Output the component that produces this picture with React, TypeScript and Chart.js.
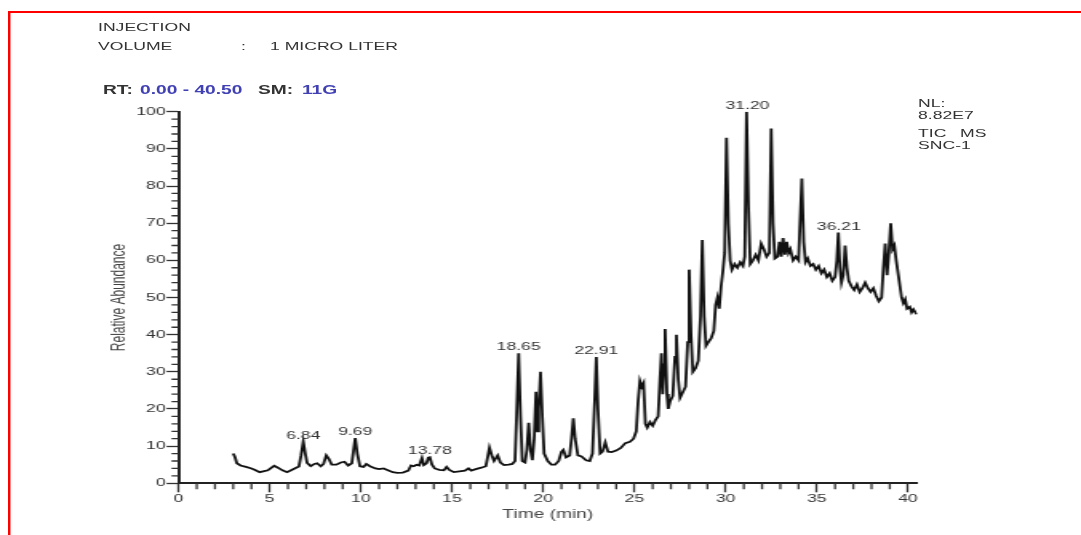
import React, { useEffect, useRef } from "react";
import { Chart, registerables } from "chart.js";

Chart.register(...registerables);

// ---- data ----
const RETENTION_TIMES = [
  3.0, 3.1, 3.2, 3.4, 3.7, 4.0, 4.2, 4.45, 4.7, 4.9, 5.1, 5.25, 5.45, 5.7, 5.95, 6.2, 6.45, 6.6, 6.72, 6.84,
  6.95, 7.05, 7.25, 7.45, 7.6, 7.8, 7.95, 8.1, 8.25, 8.4, 8.65, 8.9, 9.1, 9.3, 9.5, 9.6, 9.69, 9.8, 9.95, 10.15,
  10.3, 10.5, 10.8, 11.0, 11.25, 11.45, 11.75, 12.0, 12.3, 12.6, 12.75, 12.9, 13.05, 13.2, 13.35, 13.45, 13.6, 13.7, 13.78, 13.9,
  14.05, 14.3, 14.55, 14.7, 14.85, 15.1, 15.4, 15.7, 15.9, 16.05, 16.3, 16.6, 16.85, 16.95, 17.05, 17.2, 17.3, 17.5, 17.65, 17.85,
  18.1, 18.3, 18.45, 18.55, 18.65, 18.75, 18.85, 19.0, 19.1, 19.2, 19.3, 19.4, 19.5, 19.6, 19.68, 19.75, 19.85, 19.95, 20.05, 20.25,
  20.45, 20.65, 20.85, 21.0, 21.1, 21.25, 21.45, 21.55, 21.65, 21.75, 21.9, 22.1, 22.35, 22.55, 22.7, 22.82, 22.91, 23.0, 23.12, 23.25,
  23.4, 23.55, 23.75, 24.0, 24.25, 24.5, 24.75, 24.95, 25.1, 25.2, 25.3, 25.4, 25.5, 25.6, 25.7, 25.85, 26.0, 26.15, 26.3, 26.4,
  26.48, 26.55, 26.62, 26.68, 26.78, 26.85, 26.95, 27.1, 27.22, 27.3, 27.4, 27.5, 27.65, 27.8, 27.92, 28.0, 28.1, 28.2, 28.35, 28.5,
  28.62, 28.72, 28.82, 28.92, 29.05, 29.2, 29.35, 29.45, 29.55, 29.65, 29.75, 29.85, 29.95, 30.05, 30.15, 30.25, 30.35, 30.5, 30.65, 30.8,
  30.95, 31.05, 31.15, 31.25, 31.35, 31.5, 31.65, 31.8, 31.95, 32.1, 32.25, 32.4, 32.5, 32.6, 32.7, 32.85, 32.95, 33.05, 33.15, 33.25,
  33.35, 33.45, 33.55, 33.7, 33.85, 34.0, 34.08, 34.18, 34.28, 34.38, 34.5, 34.65, 34.8, 34.95, 35.1, 35.25, 35.4, 35.55, 35.7, 35.85,
  36.0, 36.1, 36.18, 36.27, 36.35, 36.45, 36.55, 36.65, 36.75, 36.9, 37.05, 37.2, 37.35, 37.5, 37.65, 37.8, 37.95, 38.1, 38.25, 38.4,
  38.55, 38.65, 38.75, 38.85, 38.95, 39.05, 39.15, 39.25, 39.35, 39.5, 39.65, 39.75, 39.85, 39.95, 40.1, 40.2, 40.3, 40.4, 40.5,
];

const RELATIVE_ABUNDANCE = [
  8.0, 7.0, 5.4, 4.8, 4.4, 4.0, 3.6, 3.0, 3.3, 3.5, 4.2, 4.7, 4.2, 3.5, 3.0, 3.6, 4.2, 4.5, 7.5, 11.2,
  8.0, 5.5, 4.6, 5.2, 5.4, 4.6, 5.2, 7.5, 6.5, 5.0, 5.0, 5.6, 5.8, 4.8, 5.4, 9.0, 12.2, 8.0, 4.6, 4.4,
  5.2, 4.6, 4.0, 3.8, 4.0, 3.6, 3.0, 2.8, 2.9, 3.4, 4.8, 4.6, 5.0, 4.8, 6.8, 4.9, 5.4, 6.9, 7.0, 5.0,
  4.0, 3.6, 3.5, 4.4, 3.6, 3.0, 3.2, 3.4, 4.0, 3.4, 3.8, 4.2, 4.6, 7.0, 9.6, 7.2, 6.0, 7.5, 5.6, 4.9,
  5.0, 5.2, 6.0, 20.0, 35.0, 18.0, 6.0, 5.6, 9.0, 16.3, 9.0, 6.2, 12.0, 24.6, 14.0, 20.0, 30.0, 18.0, 8.0, 6.0,
  5.0, 5.0, 6.0, 8.5, 9.0, 7.0, 7.5, 12.0, 17.5, 12.0, 7.5, 7.2, 6.2, 6.0, 8.0, 22.0, 34.0, 20.0, 8.0, 8.5,
  11.0, 8.5, 8.4, 8.8, 9.5, 10.8, 11.2, 12.0, 14.0, 22.0, 27.5, 26.0, 27.0, 16.0, 15.0, 16.5, 15.5, 17.0, 18.0, 28.0,
  35.0, 24.0, 32.0, 41.5, 24.0, 20.0, 22.0, 23.5, 34.0, 40.0, 28.0, 23.0, 24.5, 26.0, 38.0, 57.5, 40.0, 30.0, 31.0, 33.0,
  45.0, 65.5, 45.0, 37.0, 38.0, 39.0, 41.0, 48.0, 50.0, 47.0, 53.0, 57.0, 62.0, 93.0, 70.0, 60.0, 57.5, 59.0, 58.0, 59.5,
  58.5, 61.0, 100.0, 75.0, 59.0, 60.0, 61.5, 60.0, 64.5, 63.0, 61.0, 62.0, 95.5, 70.0, 60.5, 61.0, 65.0, 61.0, 66.0, 61.5,
  65.0, 62.0, 63.0, 60.0, 61.0, 60.0, 70.0, 82.0, 65.0, 59.5, 60.5, 58.5, 59.0, 57.5, 58.5, 56.5, 57.5, 55.5, 56.5, 54.5,
  55.5, 60.0, 67.5, 58.0, 54.0, 56.0, 64.0, 58.0, 54.5, 53.0, 52.0, 53.5, 51.5, 52.5, 54.0, 52.5, 51.5, 52.5, 50.5, 49.0,
  50.0, 58.0, 64.5, 56.0, 62.0, 70.0, 63.0, 64.0, 60.0, 55.0, 50.0, 48.5, 49.5, 47.0, 47.5, 46.0, 46.8, 46.0, 45.5,
];

const PEAK_TIMES = [6.84, 9.69, 13.78, 18.65, 22.91, 31.2, 36.21];
const PEAK_LABELS = ["6.84", "9.69", "13.78", "18.65", "22.91", "31.20", "36.21"];

const X_TICKS = [0, 5, 10, 15, 20, 25, 30, 35, 40];
const Y_TICKS = [0, 10, 20, 30, 40, 50, 60, 70, 80, 90, 100];
const X_MINOR_STEP = 1;
const Y_MINOR_STEP = 2;
const X_MAX = 40.5;
const Y_MAX = 100;

// ---- layout ----
const SCREEN_W = 1081;
const SCREEN_H = 535;
const CANVAS_W = 676; // drawn narrower, then stretched horizontally like the reference
const SX = SCREEN_W / CANVAS_W;
const FONT = "'Liberation Sans', Arial, Helvetica, sans-serif";
const INK = "#333";
const BLUE = "#4141b4";

const minorTicksPlugin = {
  id: "minorTicks",
  afterDraw(chart: any) {
    const { ctx, chartArea, scales } = chart;
    const x = scales.x;
    const y = scales.y;
    ctx.save();
    ctx.strokeStyle = INK;
    ctx.lineWidth = 1.3;
    ctx.beginPath();
    for (let v = 0; v <= Y_MAX; v += Y_MINOR_STEP) {
      if (Y_TICKS.includes(v)) continue;
      const py = y.getPixelForValue(v);
      ctx.moveTo(chartArea.left - 4.4, py);
      ctx.lineTo(chartArea.left, py);
    }
    for (let t = 0; t <= 40; t += X_MINOR_STEP) {
      if (X_TICKS.includes(t)) continue;
      const px = x.getPixelForValue(t);
      ctx.moveTo(px, chartArea.bottom);
      ctx.lineTo(px, chartArea.bottom + 6);
    }
    ctx.stroke();
    ctx.restore();
  },
};

const peakLabelPlugin = {
  id: "peakLabels",
  afterDatasetsDraw(chart: any) {
    const { ctx, scales } = chart;
    ctx.save();
    ctx.font = `11px ${FONT}`;
    ctx.fillStyle = INK;
    ctx.textAlign = "center";
    ctx.textBaseline = "bottom";
    PEAK_TIMES.forEach((pt, i) => {
      let best = -1;
      for (let j = 0; j < RETENTION_TIMES.length; j++) {
        if (Math.abs(RETENTION_TIMES[j] - pt) <= 0.2 && RELATIVE_ABUNDANCE[j] > best) {
          best = RELATIVE_ABUNDANCE[j];
        }
      }
      const px = scales.x.getPixelForValue(pt);
      const py = scales.y.getPixelForValue(best);
      ctx.fillText(PEAK_LABELS[i], px, py - 0.5);
    });
    ctx.restore();
  },
};

function Txt(props: { x: number; y: number; size: number; color?: string; bold?: boolean; children: React.ReactNode }) {
  return (
    <div
      style={{
        position: "absolute",
        left: props.x,
        top: props.y,
        fontSize: props.size,
        fontWeight: props.bold ? 600 : 400,
        lineHeight: 1,
        color: props.color || INK,
        whiteSpace: "pre",
        fontFamily: FONT,
        transform: `scaleX(${SX})`,
        transformOrigin: "0 0",
      }}
    >
      {props.children}
    </div>
  );
}

export default function App() {
  const canvasRef = useRef<HTMLCanvasElement | null>(null);

  useEffect(() => {
    const canvas = canvasRef.current;
    if (!canvas) return;
    const points = RETENTION_TIMES.map((t, i) => ({ x: t, y: RELATIVE_ABUNDANCE[i] }));
    const chart = new Chart(canvas, {
      type: "line",
      data: {
        datasets: [
          {
            data: points,
            borderColor: "#111",
            borderWidth: 1.8,
            pointRadius: 0,
            tension: 0,
            fill: false,
          },
        ],
      },
      options: {
        animation: false,
        responsive: false,
        maintainAspectRatio: false,
        devicePixelRatio: 1,
        events: [],
        layout: { padding: { left: 51.62, right: 102.5, top: 111.7, bottom: 6.7 } },
        plugins: { legend: { display: false }, tooltip: { enabled: false } },
        scales: {
          x: {
            type: "linear",
            min: 0,
            max: X_MAX,
            afterBuildTicks: (s: any) => {
              s.ticks = X_TICKS.map((v) => ({ value: v }));
            },
            afterFit: (s: any) => {
              s.height = 45;
            },
            ticks: { font: { size: 11, family: FONT }, color: INK, padding: 0, maxRotation: 0, autoSkip: false },
            grid: { display: true, drawOnChartArea: false, drawTicks: true, tickLength: 9, tickColor: INK, tickWidth: 1.3 },
            border: { display: true, color: "#222", width: 2 },
            title: {
              display: true,
              text: "Time (min)",
              font: { size: 12, family: FONT },
              color: "#444",
              padding: { top: 0, bottom: 6.6 },
            },
          },
          y: {
            type: "linear",
            min: 0,
            max: Y_MAX,
            afterBuildTicks: (s: any) => {
              s.ticks = Y_TICKS.map((v) => ({ value: v }));
            },
            afterFit: (s: any) => {
              s.width = 60;
            },
            ticks: { font: { size: 11, family: FONT }, color: INK, padding: 0.6, autoSkip: false },
            grid: { display: true, drawOnChartArea: false, drawTicks: true, tickLength: 7.5, tickColor: INK, tickWidth: 1.3 },
            border: { display: true, color: "#222", width: 2 },
            title: {
              display: true,
              text: "Relative Abundance",
              font: { size: 12, family: FONT },
              color: "#444",
              padding: { top: 16.2, bottom: 0 },
            },
          },
        },
      },
      plugins: [minorTicksPlugin, peakLabelPlugin],
    } as any);
    return () => chart.destroy();
  }, []);

  return (
    <div style={{ position: "fixed", left: 0, top: 0, width: SCREEN_W, height: SCREEN_H, background: "#fff", overflow: "hidden" }}>
      <canvas
        ref={canvasRef}
        width={CANVAS_W}
        height={SCREEN_H}
        style={{ position: "absolute", left: 0, top: 0, width: SCREEN_W, height: SCREEN_H }}
      />
      {/* red frame */}
      <div style={{ position: "absolute", left: 8, top: 11, right: 0, height: 2, background: "#ff0000" }} />
      <div style={{ position: "absolute", left: 8, top: 11, width: 2, bottom: 0, background: "#ff0000" }} />
      <div style={{ position: "absolute", left: 10, top: 13, width: 1, bottom: 0, background: "#ff8a8a" }} />

      <Txt x={98.3} y={21.8} size={11}>INJECTION</Txt>
      <Txt x={98.3} y={41.3} size={11}>VOLUME</Txt>
      <Txt x={241} y={41.3} size={11}>:</Txt>
      <Txt x={270} y={41.3} size={11}>1 MICRO LITER</Txt>

      <Txt x={103.3} y={84.1} size={12} bold>RT:</Txt>
      <Txt x={140} y={84.1} size={12} bold color={BLUE}>0.00 - 40.50</Txt>
      <Txt x={258.3} y={84.1} size={12} bold>SM:</Txt>
      <Txt x={301.7} y={84.1} size={12} bold color={BLUE}>11G</Txt>

      <Txt x={918} y={97.6} size={11}>NL:</Txt>
      <Txt x={918} y={110} size={11}>8.82E7</Txt>
      <Txt x={918} y={127.6} size={11}>TIC</Txt>
      <Txt x={960} y={127.6} size={11}>MS</Txt>
      <Txt x={918} y={139.6} size={11}>SNC-1</Txt>
    </div>
  );
}
